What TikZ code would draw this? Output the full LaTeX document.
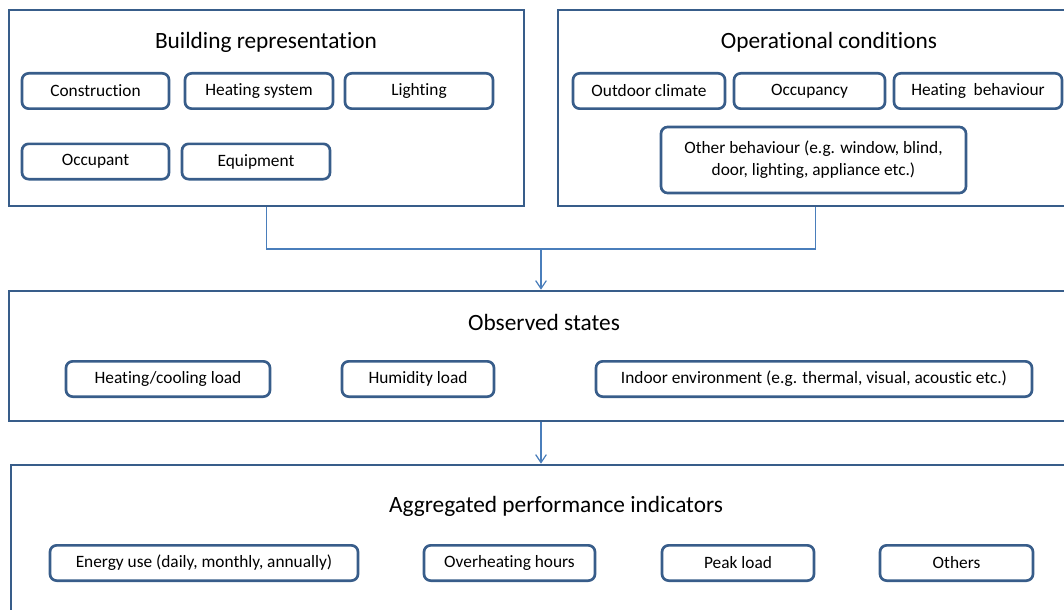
\documentclass[tikz,border=0pt]{standalone}
\usepackage{fontspec}
\setmainfont[Ligatures={NoCommon,NoRequired,NoContextual}]{Carlito}
\usepackage{tikz}
\usetikzlibrary{arrows.meta}
\definecolor{boxblue}{HTML}{385D8A}
\definecolor{lineblue}{HTML}{4A7EBB}

\begin{document}
\begin{tikzpicture}[x=0.75pt,y=-0.75pt,
    frame/.style={draw=boxblue,line width=2pt,inner sep=0pt},
    item/.style={draw=boxblue,line width=2pt,rounded corners=5pt,minimum height=26.5pt,inner sep=0pt,align=center,font=\fontsize{13}{16.5}\selectfont},
    title/.style={font=\fontsize{17.5}{21}\selectfont},
    conn/.style={draw=lineblue,line width=0.9pt},
    >={Straight Barb[length=6pt,width=8pt]}]

    \useasboundingbox (0,0) rectangle (1064,610);
    \clip (0,0) rectangle (1064,610);

    % outer frames
    \node[frame,minimum width=386.25pt,minimum height=147pt]   (br)  at (266.5,108)  {};
    \node[frame,minimum width=386.25pt,minimum height=147pt]   (oc)  at (815.5,108)  {};
    \node[frame,minimum width=798pt,minimum height=97.5pt]     (os)  at (541,356)    {};
    \node[frame,minimum width=796.5pt,minimum height=161.25pt] (api) at (542,572.5)  {};

    % titles
    \node[title] (brt)  at (266,42)  {Building representation};
    \node[title] (oct)  at (829,42)  {Operational conditions};
    \node[title] (ost)  at (544,322) {Observed states};
    \node[title] (apit) at (556,506) {Aggregated performance indicators};

    % building representation
    \node[item,minimum width=110.25pt] (cons)  at (95.5,91)    {Construction};
    \node[item,minimum width=111pt]    (heat)  at (259,91)     {Heating system};
    \node[item,minimum width=111pt]    (light) at (419,91)     {Lighting};
    \node[item,minimum width=110.25pt] (occ)   at (95.5,161.5) {Occupant};
    \node[item,minimum width=111pt]    (equip) at (256,161.5)  {Equipment};

    % operational conditions
    \node[item,minimum width=114pt]    (clim)  at (649,91)     {Outdoor climate};
    \node[item,minimum width=113.25pt] (occy)  at (809.5,91)   {Occupancy};
    \node[item,minimum width=126pt]    (hbeh)  at (978,91)     {Heating\ \ behaviour};
    \node[item,minimum width=228.75pt,minimum height=49.5pt] (obeh) at (813.5,160)
        {Other behaviour (e.g. window, blind,\\door, lighting, appliance etc.)};

    % observed states
    \node[item,minimum width=153pt]    (load)  at (168,379)    {Heating/cooling load};
    \node[item,minimum width=114pt]    (hum)   at (418,379)    {Humidity load};
    \node[item,minimum width=327pt]    (ienv)  at (814,379)    {Indoor environment (e.g. thermal, visual, acoustic etc.)};

    % aggregated performance indicators
    \node[item,minimum width=231pt]    (energy) at (204,563)   {Energy use (daily, monthly, annually)};
    \node[item,minimum width=128.25pt] (ovh)    at (509.5,563) {Overheating hours};
    \node[item,minimum width=114pt]    (peak)   at (738,563)   {Peak load};
    \node[item,minimum width=114.75pt] (other)  at (956.5,563) {Others};

    \coordinate (j) at (541,249);

    \draw[conn] (br.south) |- (j) -| (oc.south);
    \draw[conn,->] (j) -- (os.north);
    \draw[conn,->] (os.south) -- (os.south |- api.north);
\end{tikzpicture}
\end{document}
